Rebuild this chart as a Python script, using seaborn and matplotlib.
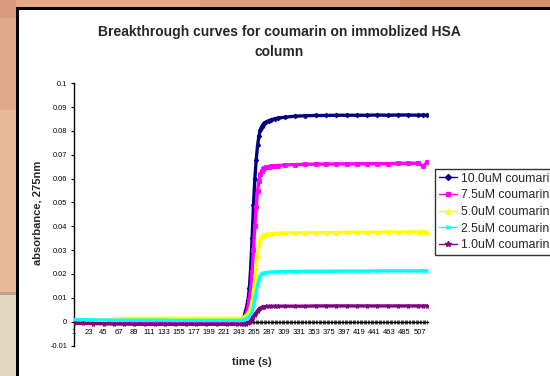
import numpy as np
import pandas as pd
import seaborn as sns
import matplotlib.pyplot as plt
from matplotlib.patches import Rectangle
from matplotlib.lines import Line2D

# time points (s)
time_s = [1, 15, 30, 45, 60, 75, 90, 105, 120, 135, 150, 165, 180, 195, 210, 225, 240,
          246, 250, 253, 256, 258, 260, 262, 264, 266, 268, 270, 272, 274, 276, 278, 280,
          283, 286, 290, 295, 300,
          310, 325, 340, 355, 370, 385, 400, 415, 430, 445, 460, 475, 490, 505, 512, 518]

abs_10uM = [-0.0002, -0.0002, -0.0003, -0.0003, -0.0003, -0.0003, -0.0003, -0.0003, -0.0003,
            -0.0003, -0.0003, -0.0003, -0.0003, -0.0003, -0.0003, -0.0002, -0.0001,
            0.0002, 0.002, 0.005, 0.009, 0.014, 0.023, 0.035, 0.049, 0.060, 0.068, 0.074,
            0.078, 0.0805, 0.0818, 0.0827, 0.0833, 0.0838, 0.0843, 0.0847, 0.0851, 0.0854,
            0.0858, 0.0862, 0.0864, 0.0865, 0.0865, 0.0866, 0.0866, 0.0866, 0.0866, 0.0867,
            0.0866, 0.0867, 0.0867, 0.0866, 0.0867, 0.0866]
abs_7_5uM = [0.0004, 0.0003, 0.0003, 0.0003, 0.0002, 0.0002, 0.0002, 0.0002, 0.0002,
             0.0002, 0.0002, 0.0002, 0.0002, 0.0002, 0.0002, 0.0002, 0.0003,
             0.0005, 0.0015, 0.003, 0.006, 0.009, 0.014, 0.021, 0.030, 0.040, 0.048, 0.055,
             0.059, 0.0618, 0.0632, 0.0640, 0.0645, 0.0648, 0.0650, 0.0652, 0.0654, 0.0655,
             0.0657, 0.0659, 0.0660, 0.0661, 0.0661, 0.0662, 0.0662, 0.0662, 0.0663, 0.0663,
             0.0663, 0.0664, 0.0664, 0.0665, 0.0652, 0.0670]
abs_5uM = [0.0004, 0.0004, 0.0005, 0.0006, 0.0010, 0.0013, 0.0014, 0.0014, 0.0014,
           0.0014, 0.0014, 0.0014, 0.0014, 0.0014, 0.0014, 0.0014, 0.0014,
           0.0015, 0.002, 0.0025, 0.0035, 0.0045, 0.0065, 0.009, 0.013, 0.018, 0.023, 0.028,
           0.032, 0.0345, 0.0357, 0.0362, 0.0365, 0.0367, 0.0368, 0.0369, 0.0370, 0.0371,
           0.0372, 0.0373, 0.0373, 0.0374, 0.0374, 0.0374, 0.0375, 0.0375, 0.0375, 0.0375,
           0.0376, 0.0376, 0.0376, 0.0377, 0.0377, 0.0377]
abs_2_5uM = [0.0009, 0.0008, 0.0007, 0.0007, 0.0006, 0.0006, 0.0006, 0.0006, 0.0006,
             0.0006, 0.0005, 0.0005, 0.0005, 0.0005, 0.0005, 0.0005, 0.0005,
             0.0005, 0.0007, 0.001, 0.0016, 0.0022, 0.003, 0.0042, 0.0065, 0.0095, 0.0125,
             0.0155, 0.0178, 0.0193, 0.0200, 0.0203, 0.0205, 0.0206, 0.0207, 0.0208, 0.0208,
             0.0209, 0.0210, 0.0210, 0.0211, 0.0211, 0.0211, 0.0212, 0.0212, 0.0212, 0.0212,
             0.0213, 0.0213, 0.0213, 0.0213, 0.0213, 0.0214, 0.0214]
abs_1uM = [-0.0006, -0.0007, -0.0008, -0.0009, -0.0010, -0.0010, -0.0011, -0.0011, -0.0011,
           -0.0011, -0.0011, -0.0011, -0.0011, -0.0011, -0.0011, -0.0011, -0.0011,
           -0.0011, -0.0010, -0.0009, -0.0006, -0.0002, 0.0004, 0.0012, 0.0021, 0.0030,
           0.0038, 0.0046, 0.0052, 0.0057, 0.0060, 0.0062, 0.0063, 0.0064, 0.0064, 0.0064,
           0.0065, 0.0065, 0.0065, 0.0065, 0.0065, 0.0066, 0.0066, 0.0066, 0.0066, 0.0066,
           0.0066, 0.0066, 0.0066, 0.0066, 0.0066, 0.0066, 0.0066, 0.0066]

series_labels = ["10.0uM coumarin", "7.5uM coumarin", "5.0uM coumarin",
                 "2.5uM coumarin", "1.0uM coumarin"]
series_values = [abs_10uM, abs_7_5uM, abs_5uM, abs_2_5uM, abs_1uM]
series_colors = ["#000080", "#FF00FF", "#FFFF00", "#00FFFF", "#800080"]
series_markers = ["D", "s", "^", "x", "*"]
series_msize = [2.4, 2.4, 2.8, 2.8, 3.6]

x_ticks = list(range(1, 519, 22))

sns.set_style("white")
plt.rcParams['font.family'] = ['Liberation Sans', 'DejaVu Sans']

W, H = 550, 376
fig = plt.figure(figsize=(W / 100, H / 100), dpi=100)
fig.patch.set_facecolor("#E8B898")


def px_rect(x0, y0, x1, y1, color):
    fig.add_artist(Rectangle((x0 / W, 1 - y1 / H), (x1 - x0) / W, (y1 - y0) / H,
                             transform=fig.transFigure, facecolor=color,
                             edgecolor="none", zorder=0))


# slide background around the chart
px_rect(0, 0, 200, 8, "#E2A98B")
px_rect(200, 0, 400, 8, "#DCA080")
px_rect(400, 0, 550, 8, "#D4926E")
px_rect(0, 0, 16, 18, "#D99C7E")
px_rect(0, 18, 16, 110, "#E0A88A")
px_rect(0, 110, 16, 292, "#E8B898")
px_rect(0, 292, 16, 295, "#B9A48E")
px_rect(0, 295, 16, 376, "#E2D8C0")
# chart area with black frame on left/top
px_rect(16, 7, 550, 376, "#000000")
px_rect(18.5, 9.5, 550, 376, "#FFFFFF")

ax = fig.add_axes([73.5 / W, 1 - 345.5 / H, (428 - 73.5) / W, (345.5 - 83.3) / H])
ax.set_facecolor("none")

for lab, vals, col, mk, ms in zip(series_labels, series_values, series_colors,
                                  series_markers, series_msize):
    df = pd.DataFrame({"time": time_s, "absorbance": vals})
    sns.lineplot(data=df, x="time", y="absorbance", ax=ax, color=col, marker=mk,
                 markersize=ms, markeredgecolor=col, markeredgewidth=0.6,
                 linewidth=2.4, label=lab, legend=False, zorder=3)

ax.set_xlim(1, 519)
ax.set_ylim(-0.01, 0.1)
ax.set_yticks(np.round(np.arange(-0.01, 0.1001, 0.01), 2))
ax.set_yticklabels(["-0.01", "0", "0.01", "0.02", "0.03", "0.04", "0.05", "0.06",
                    "0.07", "0.08", "0.09", "0.1"])
ax.set_xticks(x_ticks)
ax.set_xticks(np.arange(1, 519, 2), minor=True)
ax.set_xticklabels([str(t) for t in x_ticks])

for s in ["top", "right"]:
    ax.spines[s].set_visible(False)
ax.spines["bottom"].set_position(("data", 0))
ax.spines["bottom"].set_zorder(1)
ax.spines["left"].set_linewidth(1.0)
ax.spines["bottom"].set_linewidth(1.0)
ax.spines["left"].set_color("black")
ax.spines["bottom"].set_color("black")

ax.tick_params(axis="y", direction="out", length=2.5, width=0.8, pad=2,
               labelsize=5.3, colors="black", left=True)
ax.tick_params(axis="x", which="both", direction="inout", length=3, width=0.5,
               pad=4, labelsize=5.5, colors="black", bottom=True)
ax.set_xlabel("")
ax.set_ylabel("")

fig.text(279 / W, 1 - 42 / H,
         "Breakthrough curves for coumarin on immoblized HSA\ncolumn",
         ha="center", va="center", fontsize=10, fontweight="bold", linespacing=1.5)
fig.text(38 / W, 1 - 213 / H, "absorbance, 275nm", rotation=90, ha="center",
         va="center", fontsize=8, fontweight="bold")
fig.text(252 / W, 1 - 362 / H, "time (s)", ha="center", va="center",
         fontsize=8, fontweight="bold")

handles = [Line2D([], [], color=c, marker=m, markersize=ms + 0.6, markeredgecolor=c,
                  linewidth=1.0) for c, m, ms in zip(series_colors, series_markers,
                                                     series_msize)]
leg = fig.legend(handles, series_labels, loc="upper left",
                 bbox_to_anchor=(435 / W, 1 - 169 / H), fontsize=8.8, frameon=True,
                 fancybox=False, borderaxespad=0, borderpad=0.3, handlelength=1.5,
                 handletextpad=0.3, labelspacing=0.38)
leg.get_frame().set_edgecolor("black")
leg.get_frame().set_linewidth(1.0)

fig.savefig("out.png", dpi=100)
